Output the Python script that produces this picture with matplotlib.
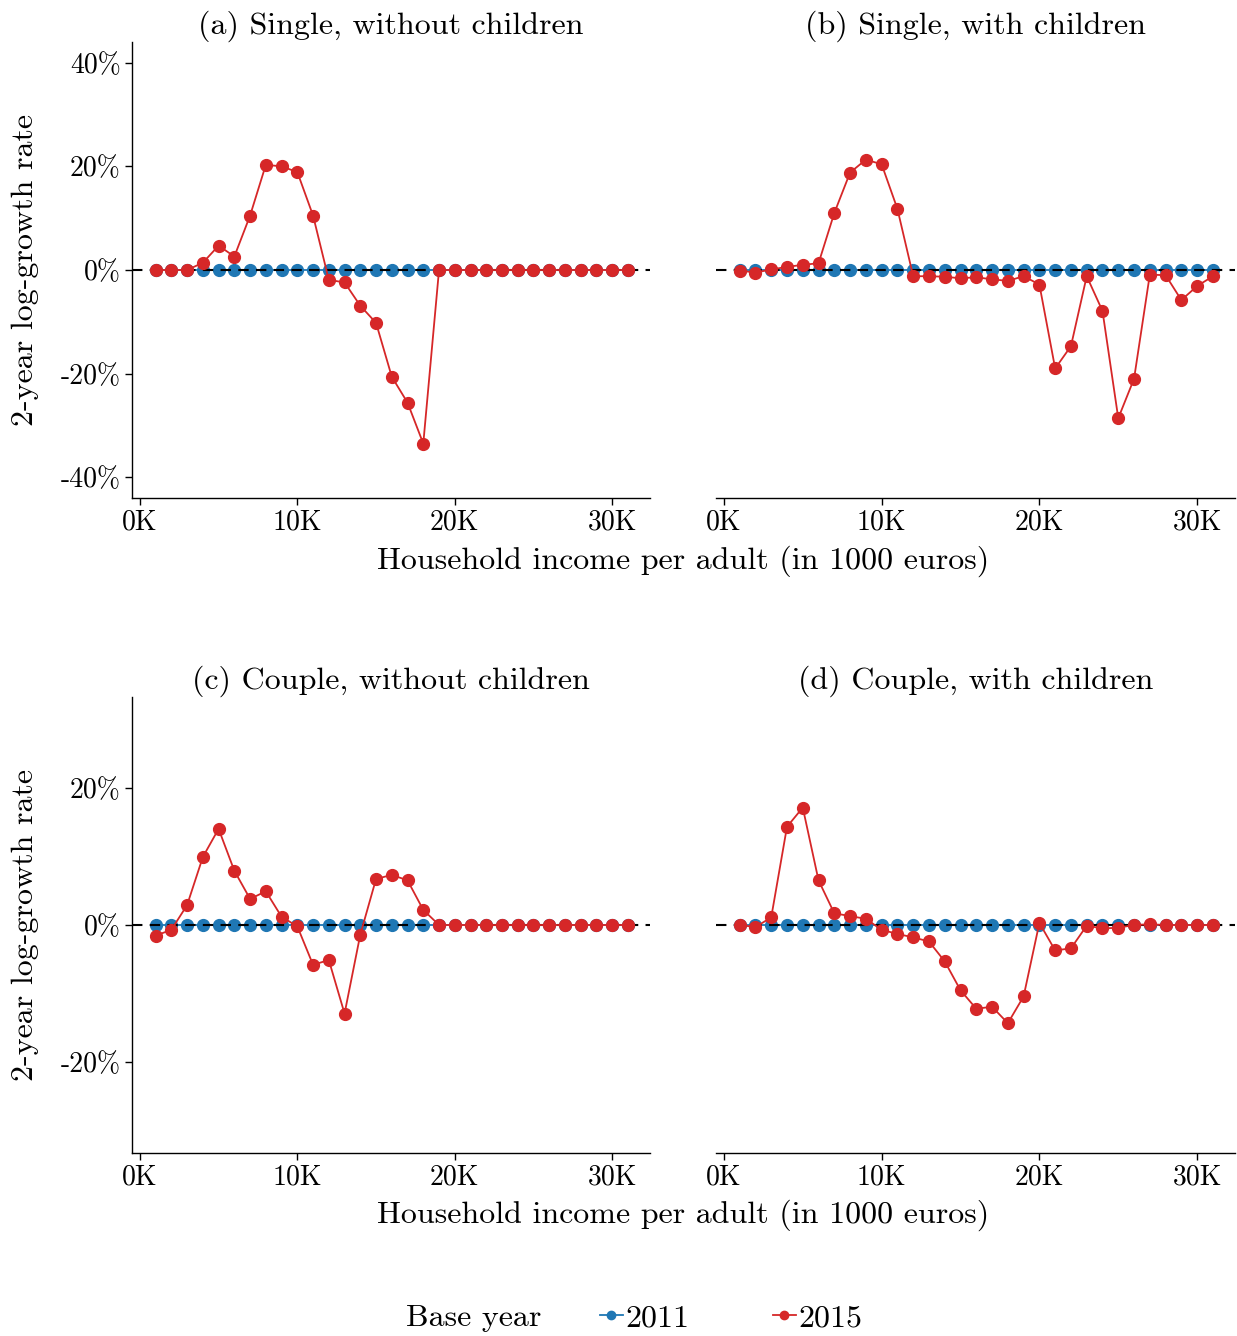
import numpy as np
import matplotlib
matplotlib.use("Agg")
import matplotlib.pyplot as plt
from matplotlib.lines import Line2D

plt.rcParams['font.family'] = ['cmr10', 'DejaVu Serif']
plt.rcParams['mathtext.fontset'] = 'cm'
plt.rcParams['axes.unicode_minus'] = False

# income bins, thousands of euros
income = np.arange(1, 32)

titles = ['(a) Single, without children', '(b) Single, with children',
          '(c) Couple, without children', '(d) Couple, with children']

# 2-year log growth rate, percent
base_2011 = np.zeros(31)

single_nokids_2015 = [0, 0, 0, 1.4, 4.7, 2.6, 10.5, 20.3, 20.0, 18.9, 10.5,
                      -1.9, -2.4, -6.9, -10.2, -20.6, -25.6, -33.5,
                      0, 0, 0, 0, 0, 0, 0, 0, 0, 0, 0, 0, 0]
single_kids_2015 = [-0.1, -0.5, 0.1, 0.6, 1.0, 1.3, 11.0, 18.8, 21.3, 20.4, 11.8,
                    -1.2, -1.2, -1.3, -1.6, -1.4, -1.8, -2.1, -1.2, -2.8,
                    -19.0, -14.7, -1.2, -7.9, -28.6, -21.0, -0.9, -1.0, -5.8, -3.1, -1.2]
couple_nokids_2015 = [-1.55, -0.7, 2.9, 9.9, 14.0, 7.9, 3.8, 4.9, 1.2, -0.2,
                      -5.8, -5.1, -12.9, -1.4, 6.7, 7.3, 6.5, 2.2,
                      0, 0, 0, 0, 0, 0, 0, 0, 0, 0, 0, 0, 0]
couple_kids_2015 = [0, -0.3, 1.1, 14.3, 17.1, 6.5, 1.7, 1.3, 0.9, -0.7, -1.3,
                    -1.8, -2.4, -5.3, -9.5, -12.2, -11.9, -14.3, -10.4, 0.3,
                    -3.7, -3.4, -0.1, -0.5, -0.4, 0, 0.1, 0, 0, 0, 0]

series_2015 = [single_nokids_2015, single_kids_2015, couple_nokids_2015, couple_kids_2015]

x_ticks = [0, 10, 20, 30]
x_labels = ['0K', '10K', '20K', '30K']
y_ticks_top = [-40, -20, 0, 20, 40]
y_ticks_bottom = [-20, 0, 20]

blue = '#1f77b4'
red = '#d62728'

W, H = 1237, 1336
fig = plt.figure(figsize=(W / 100, H / 100), dpi=100)

def box(x0, y0, x1, y1):
    return [x0 / W, 1 - y1 / H, (x1 - x0) / W, (y1 - y0) / H]

boxes = [box(132, 42, 650, 498), box(716, 42, 1235, 498),
         box(132, 697, 650, 1153), box(716, 697, 1235, 1153)]

for i, (rect, title, red_vals) in enumerate(zip(boxes, titles, series_2015)):
    ax = fig.add_axes(rect)
    ax.plot(income, base_2011, color=blue, lw=1.3, marker='o', ms=8.5, zorder=2)
    ax.axhline(0, color='black', lw=1.5, ls=(0, (5, 3.5)), zorder=3)
    ax.plot(income, red_vals, color=red, lw=1.3, marker='o', ms=8.5, zorder=4)

    ax.set_xlim(-0.5, 32.4)
    ax.set_xticks(x_ticks)
    ax.set_xticklabels(x_labels)
    if i < 2:
        ax.set_ylim(-44, 44)
        ticks = y_ticks_top
    else:
        ax.set_ylim(-33.2, 33.2)
        ticks = y_ticks_bottom
    ax.set_yticks(ticks)
    ax.set_title(title, fontsize=23, pad=6)

    for s in ['top', 'right']:
        ax.spines[s].set_visible(False)
    ax.spines['bottom'].set_linewidth(1.0)
    ax.spines['left'].set_linewidth(1.0)
    ax.tick_params(labelsize=20, length=5, width=1.0, direction='out', pad=3)

    if i % 2 == 0:
        ax.set_yticklabels([f'{t}%' for t in ticks])
        ax.set_ylabel('2-year log-growth rate', fontsize=23, labelpad=16)
    else:
        ax.spines['left'].set_visible(False)
        ax.tick_params(axis='y', left=False, labelleft=False)

fig.text(683 / W, 1 - 561 / H, 'Household income per adult (in 1000 euros)',
         fontsize=23, ha='center', va='center')
fig.text(683 / W, 1 - 1215 / H, 'Household income per adult (in 1000 euros)',
         fontsize=23, ha='center', va='center')

handles = [Line2D([], [], color=blue, lw=1.3, marker='o', ms=6),
           Line2D([], [], color=red, lw=1.3, marker='o', ms=6)]
fig.text(474 / W, 1 - 1318 / H, 'Base year', fontsize=23, ha='center', va='center')
fig.legend(handles, ['2011', '2015'], loc='center', bbox_to_anchor=(731 / W, 1 - 1318 / H),
           ncol=2, frameon=False, fontsize=23, handlelength=0.72, handletextpad=0.08,
           columnspacing=2.6)

fig.savefig('out.png', dpi=100)
